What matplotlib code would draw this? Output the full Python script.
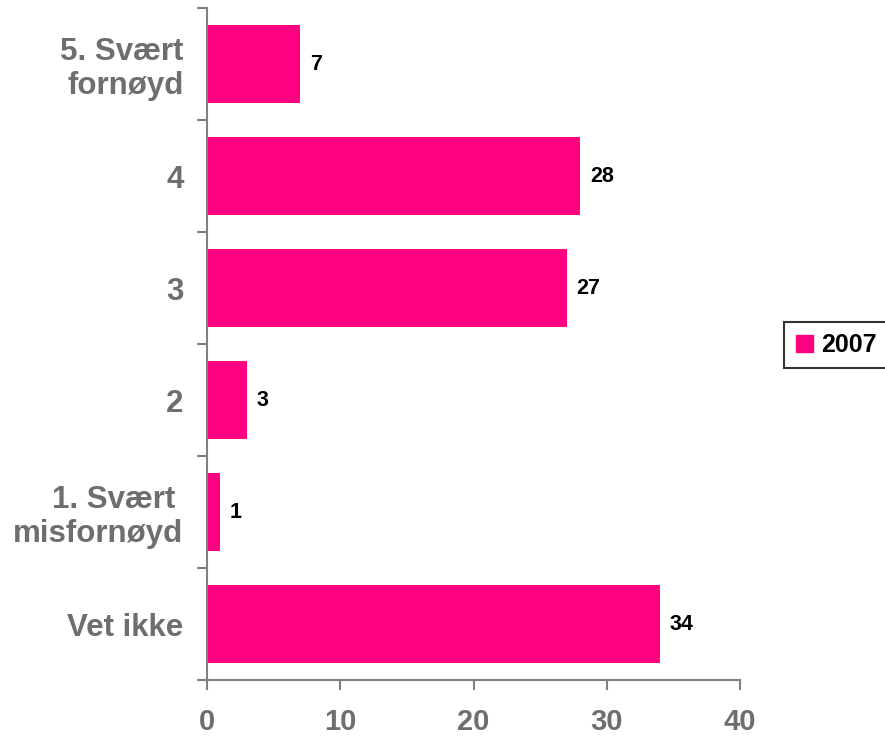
import matplotlib.pyplot as plt
import numpy as np
from matplotlib.patches import Patch
from matplotlib.ticker import FixedLocator

plt.rcParams['font.family'] = ['Liberation Sans', 'DejaVu Sans']

categories = ['5. Svært\nfornøyd', '4', '3', '2', '1. Svært \nmisfornøyd', 'Vet ikke']
values_2007 = [7, 28, 27, 3, 1, 34]
series_name = '2007'

pink = '#FF0080'
grey = '#808080'
label_grey = '#6E6E6E'

fig = plt.figure(figsize=(8.85, 7.36), dpi=100)
ax = fig.add_axes([207 / 885, 1 - 680 / 736, 533 / 885, 672 / 736])

# top category first
y_pos = np.arange(len(categories))[::-1]
ax.barh(y_pos, values_2007, height=0.7, color=pink, zorder=2)

for y, v in zip(y_pos, values_2007):
    ax.annotate(str(v), xy=(v, y), xytext=(7, 0), textcoords='offset points',
                ha='left', va='center', fontsize=15.5, fontweight='bold', color='black')

ax.set_xlim(0, 40)
ax.set_ylim(-0.5, len(categories) - 0.5)
ax.set_xticks([0, 10, 20, 30, 40])
ax.set_yticks(y_pos)
ax.set_yticklabels(categories, fontsize=22.5, fontweight='bold', color=label_grey,
                   linespacing=1.15)
ax.yaxis.set_minor_locator(FixedLocator(np.arange(-0.5, len(categories), 1.0)))
ax.tick_params(axis='y', which='major', length=0, pad=17)
ax.tick_params(axis='y', which='minor', length=7, width=1.5, color=grey, direction='out')
ax.tick_params(axis='x', length=7, width=1.5, color=grey, direction='out', pad=13,
               labelsize=21, labelcolor=label_grey)
for lab in ax.get_xticklabels():
    lab.set_fontweight('bold')

for s in ['top', 'right']:
    ax.spines[s].set_visible(False)
for s in ['left', 'bottom']:
    ax.spines[s].set_color(grey)
    ax.spines[s].set_linewidth(1.5)

leg = fig.legend(handles=[Patch(color=pink, label=series_name)],
                 loc='center', bbox_to_anchor=(836 / 885, 1 - 345 / 736),
                 frameon=True, fancybox=False, handlelength=0.7, handleheight=0.7,
                 handletextpad=0.3, borderpad=0.45,
                 prop={'weight': 'bold', 'size': 18})
leg.get_frame().set_edgecolor('black')
leg.get_frame().set_linewidth(1.5)

plt.savefig('out.png', dpi=100)
